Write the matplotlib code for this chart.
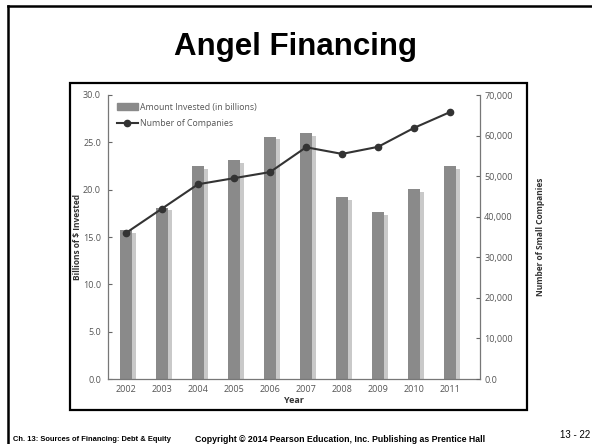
import matplotlib
matplotlib.use("Agg")
import matplotlib.pyplot as plt
from matplotlib.lines import Line2D
from matplotlib.patches import Rectangle
from matplotlib.ticker import FuncFormatter

years = ["2002", "2003", "2004", "2005", "2006", "2007", "2008", "2009", "2010", "2011"]
amount_invested = [15.7, 18.1, 22.5, 23.1, 25.6, 26.0, 19.2, 17.6, 20.1, 22.5]
num_companies = [36000, 42000, 48000, 49500, 51000, 57120, 55480, 57225, 61900, 65800]

title = "Angel Financing"
footer_left = "Ch. 13: Sources of Financing: Debt & Equity"
footer_mid = "Copyright \u00a9 2014 Pearson Education, Inc. Publishing as Prentice Hall"
footer_right = "13 - 22"

CHART_FONT = ["Open Sans", "DejaVu Sans"]
SLIDE_FONT = ["Liberation Sans", "DejaVu Sans"]
BAR = "#8a8a8a"
SHADOW = "#c9c9c9"
LINE = "#333333"
TXT = "#555555"

W, H = 592, 444
fig = plt.figure(figsize=(W / 100, H / 100), dpi=100)


def fx(px):
    return px / W


def fy(py):
    return 1 - py / H


# slide frame (top + left rule) and picture frame
fig.add_artist(Line2D([fx(8), fx(8)], [fy(6), 0], color="black", lw=1.8))
fig.add_artist(Line2D([fx(8), 1], [fy(6), fy(6)], color="black", lw=1.8))
fig.add_artist(Rectangle((fx(70), fy(410)), fx(527 - 70), (410 - 83) / H,
                         fill=False, ec="black", lw=1.6))

fig.text(0.5, fy(47), title, ha="center", va="center", fontsize=22.5,
         fontweight="bold", family=SLIDE_FONT)
fig.text(fx(13), fy(439), footer_left, ha="left", va="center", fontsize=5.4,
         fontweight="bold", family=SLIDE_FONT)
fig.text(fx(195), fy(439), footer_mid, ha="left", va="center", fontsize=6.3,
         fontweight="bold", family=SLIDE_FONT)
fig.text(fx(590), fy(435), footer_right, ha="right", va="center", fontsize=7,
         family=SLIDE_FONT)

ax = fig.add_axes([fx(108), fy(379), fx(480 - 108), (379 - 95) / H])
x = list(range(len(years)))
ax.bar([i + 0.11 for i in x], [v - 0.3 for v in amount_invested], width=0.33,
       color=SHADOW, zorder=1)
ax.bar(x, amount_invested, width=0.33, color=BAR, zorder=2)
ax.set_xlim(-0.5, 9.83)
ax.set_ylim(0, 30)
ax.set_yticks([0, 5, 10, 15, 20, 25, 30])
ax.yaxis.set_major_formatter(FuncFormatter(lambda v, _: f"{v:.1f}"))
ax.set_xticks(x, years)
ax.tick_params(axis="x", length=0, pad=4, labelsize=6.5, labelcolor=TXT)
ax.tick_params(axis="y", direction="in", length=3, width=0.8, color="#666666",
               pad=5, labelsize=6.5, labelcolor=TXT)
for lab in ax.get_xticklabels() + ax.get_yticklabels():
    lab.set_family(CHART_FONT)
ax.spines["top"].set_visible(False)
ax.spines["right"].set_visible(False)
for s in ("left", "bottom"):
    ax.spines[s].set_color("#777777")
    ax.spines[s].set_linewidth(0.9)
ax.set_ylabel("Billions of $ Invested", fontsize=6, fontweight="bold",
              color="#333333", family=CHART_FONT, labelpad=1)
ax.set_xlabel("Year", fontsize=6.5, fontweight="bold", color="#333333",
              family=CHART_FONT, labelpad=2)

ax2 = ax.twinx()
ax2.plot(x, num_companies, color=LINE, lw=1.5, marker="o", markersize=4.5,
         zorder=3)
ax2.set_ylim(0, 70000)
ax2.set_yticks(range(0, 70001, 10000))
ax2.yaxis.set_major_formatter(
    FuncFormatter(lambda v, _: "0.0" if v == 0 else f"{int(v):,}"))
ax2.tick_params(axis="y", direction="in", length=3, width=0.8, color="#666666",
                pad=3, labelsize=6.5, labelcolor=TXT)
for lab in ax2.get_yticklabels():
    lab.set_family(CHART_FONT)
for s in ("top", "left", "bottom"):
    ax2.spines[s].set_visible(False)
ax2.spines["right"].set_color("#777777")
ax2.spines["right"].set_linewidth(0.9)
ax2.set_ylabel("Number of Small Companies", fontsize=6, fontweight="bold",
               color="#333333", family=CHART_FONT, labelpad=17)

handles = [Rectangle((0, 0), 1, 1, color=BAR),
           Line2D([], [], color=LINE, lw=1.5, marker="o", markersize=4.5)]
leg = ax.legend(handles, ["Amount Invested (in billions)", "Number of Companies"],
                loc="upper left", bbox_to_anchor=(fx(113), fy(99)),
                bbox_transform=fig.transFigure, frameon=False,
                prop={"family": CHART_FONT, "size": 6.3},
                handlelength=2.4, handleheight=0.8, handletextpad=0.3,
                labelspacing=0.9, borderaxespad=0)
for t in leg.get_texts():
    t.set_color(TXT)

fig.savefig("out.png", dpi=100, facecolor="white")
